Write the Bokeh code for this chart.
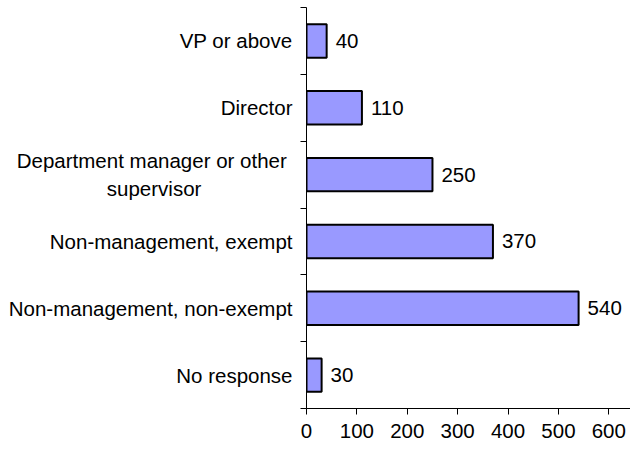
from bokeh.plotting import figure
from bokeh.models import FixedTicker, ColumnDataSource, Range1d
from bokeh.core.properties import value
from bokeh.embed import file_html
from bokeh.resources import INLINE

categories = ["No response", "Non-management, non-exempt", "Non-management, exempt",
              "Department manager or other\nsupervisor", "Director", "VP or above"]
counts = [30, 540, 370, 250, 110, 40]
x_ticks = [0, 100, 200, 300, 400, 500, 600]

FONT = "Liberation Sans"
FS = "20.5px"
NB = "\u00a0"

pos = [i + 0.5 for i in range(len(categories))]
src = ColumnDataSource(dict(y=pos, v=counts, lab=[str(c) for c in counts]))

p = figure(width=630, height=452, output_backend="svg", toolbar_location=None,
           x_range=Range1d(0, 643), y_range=Range1d(0, len(categories)),
           min_border_left=306, min_border_top=7, min_border_right=0, min_border_bottom=44)
p.outline_line_color = None
p.grid.visible = False

p.hbar(y="y", right="v", left=0, height=0.5, source=src,
       fill_color="#9999FF", line_color="black", line_width=2)
p.text(x="v", y="y", text="lab", source=src, x_offset=9, text_align="left",
       text_baseline="middle", text_font=value(FONT), text_font_size=FS, text_color="black")


def centered(label):
    # right-aligned axis labels: pad lines so a wrapped label looks centred
    if "\n" not in label:
        return label
    first, second = label.split("\n")
    return first + NB + "\n" + second + NB * 16


ya = p.yaxis[0]
ya.ticker = FixedTicker(ticks=pos, minor_ticks=list(range(len(categories) + 1)))
ya.major_label_overrides = {pp: centered(c) for pp, c in zip(pos, categories)}
ya.major_tick_line_color = None
ya.major_tick_out = 0
ya.major_tick_in = 0
ya.minor_tick_out = 6
ya.minor_tick_in = 0
ya.minor_tick_line_color = "black"
ya.minor_tick_line_width = 1
ya.axis_line_color = "black"
ya.major_label_standoff = 8
ya.major_label_text_font = FONT
ya.major_label_text_font_size = FS
ya.major_label_text_color = "black"

xa = p.xaxis[0]
xa.ticker = FixedTicker(ticks=x_ticks, minor_ticks=[])
xa.major_tick_out = 6
xa.major_tick_in = 0
xa.major_tick_line_color = "black"
xa.axis_line_color = "black"
xa.major_label_standoff = 9
xa.major_label_text_font = FONT
xa.major_label_text_font_size = FS
xa.major_label_text_color = "black"

open("out.html", "w").write(file_html(p, INLINE))
